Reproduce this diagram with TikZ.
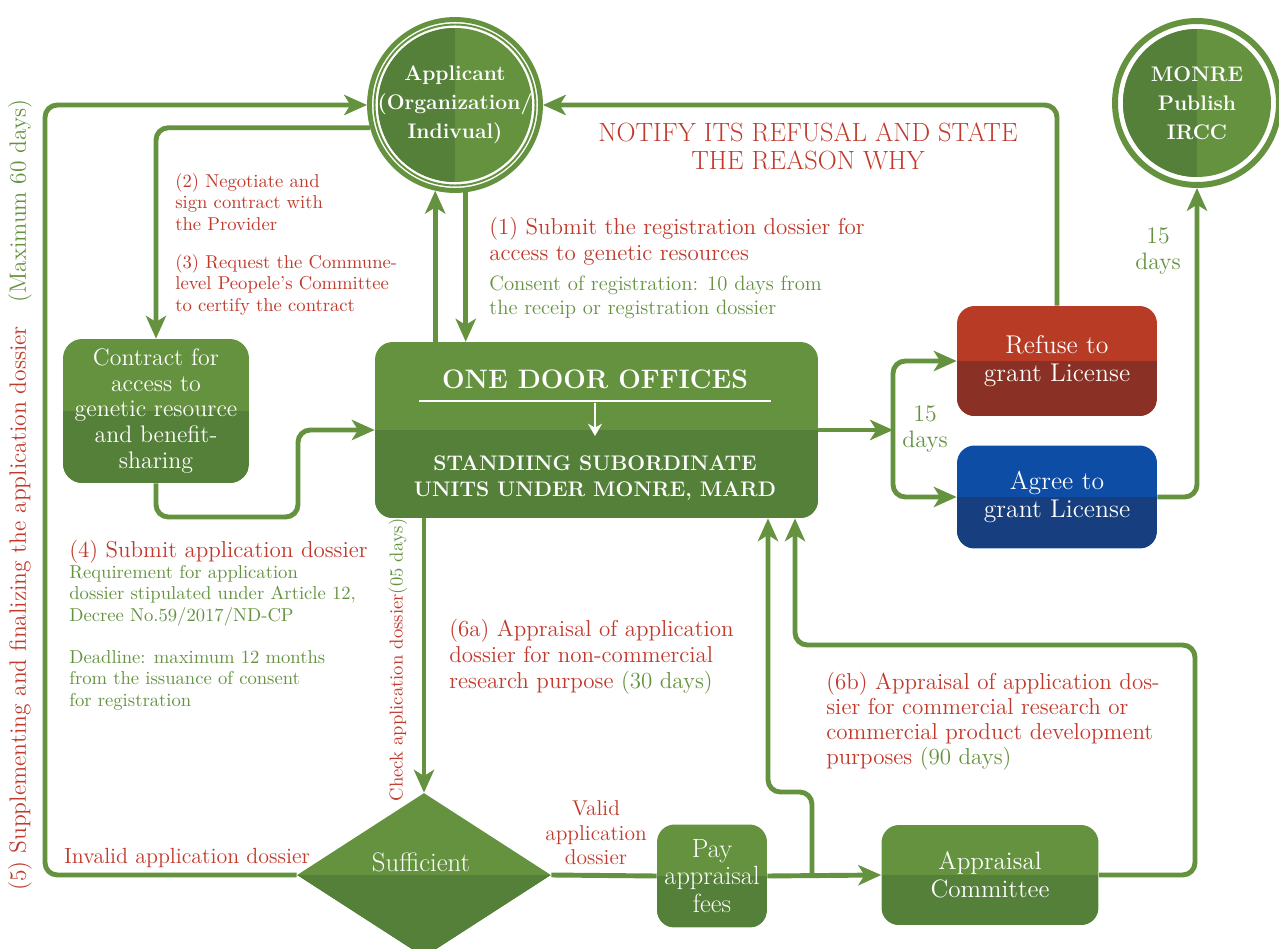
\documentclass[tikz,border=0pt]{standalone}
\usepackage{tikz}
\usetikzlibrary{arrows.meta, shapes.geometric}

\definecolor{leaf}{HTML}{64923F}
\definecolor{moss}{HTML}{55803A}
\definecolor{brick}{HTML}{C0392B}
\definecolor{rust}{HTML}{B83B26}
\definecolor{rustdark}{HTML}{8B3024}
\definecolor{sea}{HTML}{0E4DA6}
\definecolor{seadark}{HTML}{173F80}

\begin{document}
\begin{tikzpicture}[
    x=0.02cm, y=-0.02cm,
    flow/.style={
      draw=leaf, line width=2.8pt, rounded corners=7pt,
      -{Stealth[length=13pt, width=11.5pt, inset=3.5pt]}
    },
    link/.style={draw=leaf, line width=2.8pt},
    twotone/.style 2 args={
      fill=#1,
      path picture={\fill[#2, sharp corners] (path picture bounding box.west)
        rectangle (path picture bounding box.south east);}
    },
    halves/.style={
      path picture={\fill[moss, sharp corners] (path picture bounding box.north west)
        rectangle (path picture bounding box.south);}
    },
    box/.style={
      rectangle, rounded corners=10pt, inner sep=0pt, align=center,
      text=white, font=\fontsize{14.6}{15.9}\selectfont
    },
    hub/.style={
      circle, inner sep=-6pt, outer sep=0.22cm, align=center, text=white,
      fill=leaf, halves, font=\bfseries\fontsize{12}{16.5}\selectfont
    },
    note/.style={
      anchor=north west, inner sep=0pt, align=left, text=brick,
      font=\fontsize{13.1}{14.7}\selectfont
    },
    small/.style={font=\fontsize{10.6}{12.2}\selectfont},
    days/.style={
      align=center, text=leaf, inner sep=0pt,
      font=\fontsize{13.5}{14.8}\selectfont
    }
  ]
  \useasboundingbox (0,0) rectangle (1279,949);

  \node[hub, minimum size=3.08cm] (applicant) at (455,105)
    {Applicant\\(Organization/\\Indivual)};
  \draw[leaf, line width=2.8pt] (applicant.center) circle [radius=1.71cm];
  \draw[leaf, line width=1.1pt] (applicant.center) circle [radius=1.61cm];

  \node[hub, minimum size=2.96cm] (monre) at (1197,103) {MONRE\\Publish\\IRCC};
  \draw[leaf, line width=3.4pt] (monre.center) circle [radius=1.64cm];

  \node[box, twotone={leaf}{moss}, minimum width=3.72cm, minimum height=2.88cm,
    rounded corners=11pt, font=\fontsize{13.6}{14.6}\selectfont] (contract)
    at (156,411) {Contract for\\access to\\genetic resource\\and benefit-\\sharing};

  \node[box, twotone={leaf}{moss}, minimum width=8.86cm, minimum height=3.52cm]
    (office) at (596.5,430) {};
  \node[text=white, font=\bfseries\fontsize{15.2}{18}\selectfont] (doortitle)
    at (595,379) {ONE DOOR OFFICES};
  \draw[white, line width=1.1pt] (419,401) -- (771,401);
  \draw[white, line width=1.6pt, -{Stealth[length=7pt, width=8pt]}]
    (595,403) -- (595,436);
  \node[text=white, align=center, font=\bfseries\fontsize{12}{14.7}\selectfont]
    (units) at (595,478) {STANDIING SUBORDINATE\\UNITS UNDER MONRE, MARD};

  \node[box, twotone={rust}{rustdark}, minimum width=4cm, minimum height=2.2cm]
    (refuse) at (1057,361) {Refuse to\\grant License};
  \node[box, twotone={sea}{seadark}, minimum width=4cm, minimum height=2.06cm]
    (agree) at (1057,497) {Agree to\\grant License};

  \node[diamond, minimum width=5.08cm, minimum height=3.28cm, inner sep=0pt,
    twotone={leaf}{moss}] (sufficient) at (424,875) {};
  \node[text=white, font=\fontsize{15.2}{17}\selectfont] (sufficienttext)
    at (421,862) {Sufficient};
  \node[box, twotone={leaf}{moss}, minimum width=2.2cm, minimum height=2.06cm,
    font=\fontsize{15}{15.6}\selectfont] (pay) at (712,876) {Pay\\appraisal\\fees};
  \node[box, twotone={leaf}{moss}, minimum width=4.34cm, minimum height=2cm,
    font=\fontsize{14.3}{15.9}\selectfont] (committee) at (990,875)
    {Appraisal\\Committee};

  \coordinate (fork) at (893,430);
  \coordinate (split) at (812,875);
  \coordinate (riseA) at (768,792);
  \coordinate (riseB) at (795,645);

  \draw[flow] (sufficient.west) -- (45,875) -- (45,105) -- (applicant.west);
  \draw[flow] (applicant.195) -| (contract.north);
  \draw[flow] (contract.south) -- (156,517) -- (298,517) -- (298,430)
    -- (office.west);
  \draw[flow] (applicant.257 |- office.north) -- (applicant.257);
  \draw[flow] (applicant.277) -- (applicant.277 |- office.north);
  \draw[flow] (office.east) -- (fork);
  \draw[flow] (fork) |- (refuse.west);
  \draw[flow] (fork) |- (agree.west);
  \draw[flow] (refuse.north) |- (applicant.east);
  \draw[flow] (agree.east) -| (monre.south);
  \draw[flow] (sufficient.north |- office.south) -- (sufficient.north);
  \draw[link] (sufficient.east) -- (pay.west);
  \draw[flow] (pay.east) -- (committee.west);
  \draw[flow] (split) -- (812,792) -- (riseA) -- (riseA |- office.south);
  \draw[flow] (committee.east) -- (1195,875) -- (1195,645) -- (riseB)
    -- (riseB |- office.south);

  \node[note, small] (negotiate) at (175,173)
    {(2) Negotiate and\\sign contract with\\the Provider};
  \node[note, small] (certify) at (175,254)
    {(3) Request the Commune-\\level Peopele's Committee\\to certify the contract};
  \node[note] (submit) at (489,217)
    {(1) Submit the registration dossier for\\access to genetic resources};
  \node[note, text=leaf, font=\fontsize{11.8}{13.6}\selectfont] (consent)
    at (489,276) {Consent of registration: 10 days from\\the receip or registration dossier};
  \node[align=center, text=brick, font=\fontsize{15}{15.9}\selectfont]
    (notify) at (808,146) {NOTIFY ITS REFUSAL AND STATE\\THE REASON WHY};
  \node[note] (apply) at (69,540) {(4) Submit application dossier};
  \node[note, small, text=leaf] (requirement) at (69,565)
    {Requirement for application\\dossier stipulated under Article 12,\\Decree No.59/2017/ND-CP};
  \node[note, small, text=leaf] (deadline) at (69,650)
    {Deadline: maximum 12 months\\from the issuance of consent\\for registration};
  \node[days] (refusedays) at (925,429) {15\\days};
  \node[days] (publishdays) at (1158,251) {15\\days};
  \node[note] (noncommercial) at (449,619)
    {(6a) Appraisal of application\\dossier for non-commercial\\research purpose {\color{leaf}(30 days)}};
  \node[note, font=\fontsize{13.1}{14.3}\selectfont] (commercial) at (826,672)
    {(6b) Appraisal of application dos-\\sier for commercial research or\\commercial product development\\purposes {\color{leaf}(90 days)}};
  \node[align=center, text=brick, font=\fontsize{12.2}{13.9}\selectfont]
    (valid) at (596,833) {Valid\\application\\dossier};
  \node[anchor=west, text=brick, font=\fontsize{12.5}{13}\selectfont]
    (invalid) at (58,858) {Invalid application dossier};
  \node[rotate=90, text=brick, font=\fontsize{10.6}{12}\selectfont]
    (check) at (398,660) {Check application dossier{\color{leaf}(05 days)}};
  \node[rotate=90, text=brick, font=\fontsize{13.4}{15}\selectfont]
    (supplement) at (20,495)
    {(5) Supplementing and finalizing the application dossier\quad{\color{leaf}(Maximum 60 days)}};
\end{tikzpicture}
\end{document}
